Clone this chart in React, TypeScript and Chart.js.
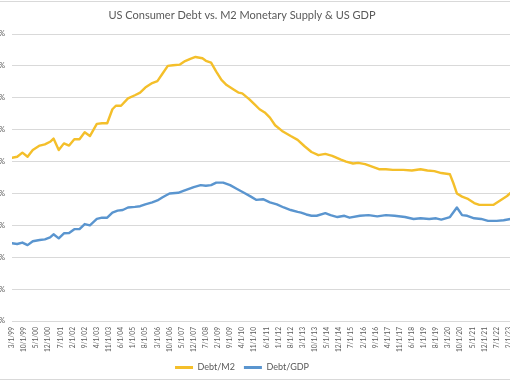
import React, { useEffect, useRef } from 'react';
import { Chart, registerables } from 'chart.js';

Chart.register(...registerables);

const TITLE = 'US Consumer Debt vs. M2 Monetary Supply & US GDP';
const START_YEAR = 1999;
const START_MONTH = 3;
const X_MAX = 290;
const X_STEP = 7;
const Y_MAX = 45;
const Y_STEP = 5;

const debtM2Months = [0, 3, 6, 9, 12, 16, 19, 22, 24, 27, 30, 33, 36, 39, 42, 45, 49, 52, 55, 58, 60, 63, 67, 71, 74, 77, 81, 84, 87, 90, 93, 97, 100, 103, 106, 110, 112, 115, 118, 121, 124, 128, 131, 133, 137, 140, 143, 146, 149, 152, 156, 161, 165, 169, 173, 177, 181, 185, 190, 193, 197, 200, 204, 208, 212, 216, 220, 226, 231, 236, 240, 244, 248, 253, 255, 257, 260, 263, 267, 270, 274, 278, 282, 286, 288];
const debtM2Values = [25.6, 25.75, 26.4, 25.75, 26.8, 27.5, 27.7, 28.1, 28.6, 26.8, 27.85, 27.5, 28.5, 28.5, 29.6, 29.0, 30.9, 31.0, 31.0, 33.2, 33.75, 33.75, 34.9, 35.4, 35.8, 36.6, 37.3, 37.6, 38.8, 40.0, 40.1, 40.2, 40.75, 41.1, 41.4, 41.2, 40.8, 40.5, 39.1, 37.8, 37.0, 36.3, 35.8, 35.7, 34.8, 34.0, 33.2, 32.7, 31.9, 30.7, 29.8, 29.0, 28.4, 27.4, 26.5, 26.0, 26.2, 25.9, 25.3, 25.0, 24.7, 24.8, 24.6, 24.2, 23.8, 23.8, 23.7, 23.7, 23.6, 23.8, 23.6, 23.5, 23.2, 23.0, 21.6, 20.0, 19.5, 19.2, 18.5, 18.2, 18.2, 18.2, 18.9, 19.6, 20.1];

const debtGdpMonths = [0, 3, 6, 9, 12, 16, 19, 22, 24, 27, 30, 33, 36, 39, 42, 45, 49, 52, 55, 58, 61, 64, 67, 71, 74, 77, 81, 84, 87, 91, 96, 99, 105, 109, 112, 115, 118, 122, 126, 130, 134, 138, 141, 145, 149, 153, 157, 161, 165, 167, 170, 173, 176, 181, 184, 188, 192, 195, 201, 206, 211, 216, 221, 227, 232, 236, 241, 245, 248, 253, 257, 260, 263, 267, 271, 275, 280, 284, 288];
const debtGdpValues = [12.2, 12.07, 12.3, 11.9, 12.5, 12.7, 12.8, 13.1, 13.6, 12.96, 13.75, 13.8, 14.4, 14.4, 15.2, 15.0, 16.0, 16.2, 16.2, 17.0, 17.3, 17.4, 17.8, 17.9, 18.0, 18.3, 18.6, 18.9, 19.4, 20.0, 20.1, 20.4, 21.0, 21.3, 21.2, 21.3, 21.7, 21.7, 21.3, 20.7, 20.1, 19.5, 19.0, 19.1, 18.6, 18.3, 17.8, 17.4, 17.1, 17.0, 16.7, 16.5, 16.5, 16.9, 16.6, 16.3, 16.5, 16.2, 16.5, 16.6, 16.4, 16.6, 16.5, 16.3, 16.0, 16.1, 16.0, 16.1, 15.9, 16.3, 17.8, 16.6, 16.5, 16.1, 16.0, 15.7, 15.7, 15.8, 16.0];

const SERIES_NAMES = ['Debt/M2', 'Debt/GDP'];
const SERIES_COLORS = ['#F4BF2A', '#5A95CF'];

function monthLabel(i: number): string {
  const t = START_MONTH - 1 + Math.round(i);
  const m = (t % 12) + 1;
  const y = (START_YEAR + Math.floor(t / 12)) % 100;
  return `${m}/1/${String(y).padStart(2, '0')}`;
}

const TEXT = '#595959';
const GRID = '#D9D9D9';

export default function App() {
  const ref = useRef<HTMLCanvasElement | null>(null);
  useEffect(() => {
    document.documentElement.style.overflow = 'hidden';
    document.body.style.overflow = 'hidden';
    const canvas = ref.current!;
    Chart.defaults.font.family = 'Lato';
    const chart = new Chart(canvas, {
      type: 'line',
      data: {
        datasets: [
          {
            label: SERIES_NAMES[0],
            data: debtM2Months.map((x, i) => ({ x, y: debtM2Values[i] })),
            borderColor: SERIES_COLORS[0],
            backgroundColor: SERIES_COLORS[0],
            borderWidth: 2.4,
            pointRadius: 0,
            tension: 0,
            borderJoinStyle: 'round',
            borderCapStyle: 'round',
          },
          {
            label: SERIES_NAMES[1],
            data: debtGdpMonths.map((x, i) => ({ x, y: debtGdpValues[i] })),
            borderColor: SERIES_COLORS[1],
            backgroundColor: SERIES_COLORS[1],
            borderWidth: 2.4,
            pointRadius: 0,
            tension: 0,
            borderJoinStyle: 'round',
            borderCapStyle: 'round',
          },
        ],
      },
      options: {
        responsive: false,
        animation: false,
        layout: { padding: { left: 0, right: 27, top: 0, bottom: 0 } },
        plugins: {
          title: {
            display: true,
            text: TITLE,
            color: TEXT,
            font: { size: 11, weight: 'normal' },
            padding: { top: 8.4, bottom: 12.4 },
          },
          legend: {
            position: 'bottom',
            labels: {
              boxWidth: 18,
              boxHeight: 3,
              padding: 9,
              color: TEXT,
              font: { size: 9 },
              generateLabels: (c: any) =>
                c.data.datasets.map((ds: any, i: number) => ({
                  text: ds.label,
                  fillStyle: ds.borderColor,
                  strokeStyle: ds.borderColor,
                  lineWidth: 0,
                  hidden: false,
                  datasetIndex: i,
                  fontColor: TEXT,
                })),
            },
          },
          tooltip: { enabled: false },
        },
        scales: {
          x: {
            type: 'linear',
            min: 0,
            max: X_MAX,
            afterFit: (s: any) => {
              s.height = 33;
            },
            grid: { display: false, drawTicks: false },
            border: { display: true, color: GRID, width: 1 },
            ticks: {
              stepSize: X_STEP,
              autoSkip: false,
              includeBounds: false,
              maxRotation: 90,
              minRotation: 90,
              padding: 6,
              color: TEXT,
              font: { size: 6.6 },
              callback: (v: any) => monthLabel(Number(v)),
            },
          },
          y: {
            min: 0,
            max: Y_MAX,
            afterFit: (s: any) => {
              s.width = 42;
            },
            grid: { color: GRID, lineWidth: 1, drawTicks: false },
            border: { display: false },
            ticks: {
              stepSize: Y_STEP,
              padding: 7,
              color: TEXT,
              font: { size: 7.5 },
              callback: (v: any) => `${v}%`,
            },
          },
        },
      },
    } as any);
    return () => chart.destroy();
  }, []);

  return (
    <>
      <div
        style={{
          position: 'fixed',
          left: -5,
          top: 1,
          width: 520,
          height: 379,
          boxSizing: 'border-box',
          borderTop: `1px solid ${GRID}`,
          borderBottom: `1px solid ${GRID}`,
          background: '#fff',
        }}
      />
      <canvas
        ref={ref}
        width={571}
        height={382}
        style={{ position: 'fixed', left: -30, top: 0, width: 571, height: 382 }}
      />
    </>
  );
}
